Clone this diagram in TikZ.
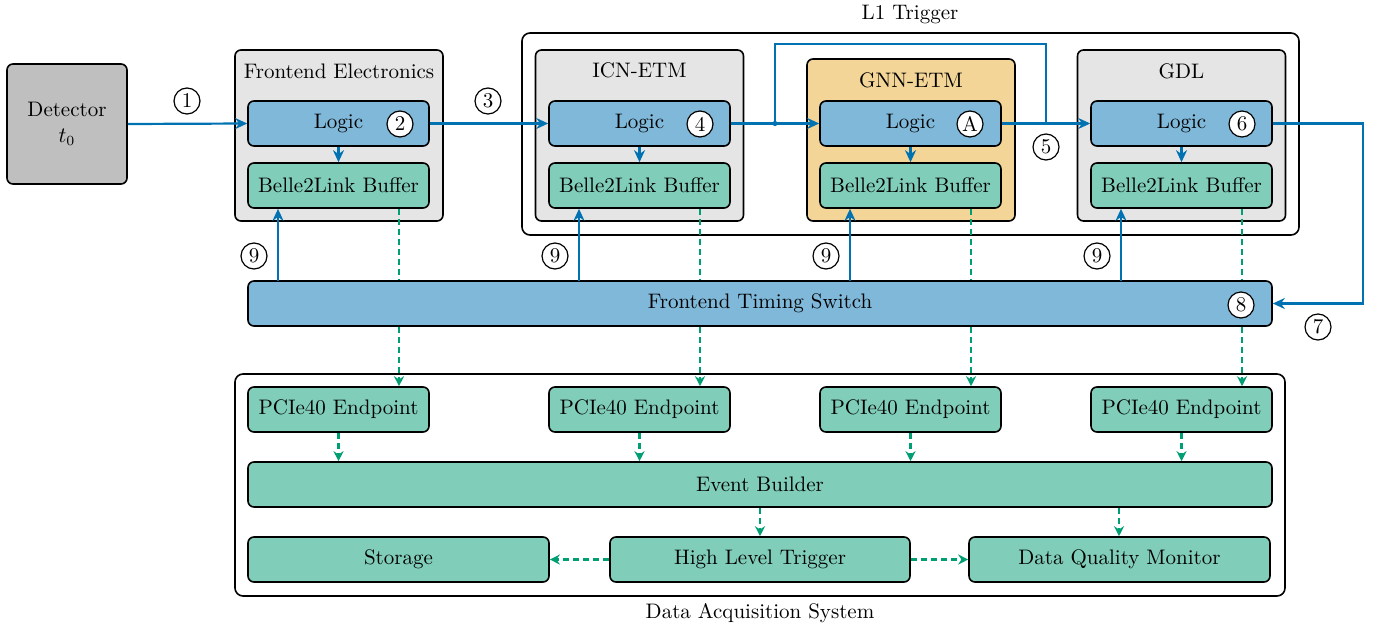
\documentclass[tikz,border=0pt]{standalone}
\usetikzlibrary{arrows.meta,calc}
\definecolor{cblue}{HTML}{0072B2}
\definecolor{cgreen}{HTML}{009E73}
\definecolor{corange}{HTML}{F3D597}
\tikzset{
  base/.style={draw, thick, rounded corners=3pt, inner sep=0pt, align=center},
  lg/.style={base, fill=cblue!50, minimum width=90.5pt, minimum height=22.5pt},
  bf/.style={base, fill=cgreen!50, minimum width=90.5pt, minimum height=22.5pt},
  grp/.style={base, fill=black!10, minimum width=104pt, minimum height=85.5pt},
  outer/.style={base, rounded corners=4pt},
  num/.style={circle, draw, semithick, fill=white, inner sep=0pt, minimum size=13pt},
  bl/.style={cblue, line width=1.1pt, -{Stealth[length=6pt,width=5.5pt]}},
  bline/.style={cblue, line width=1.1pt},
  dq/.style={cgreen, line width=1.1pt, dash pattern=on 3pt off 2pt, -{Stealth[length=5pt,width=5pt]}},
  dqline/.style={cgreen, line width=1.1pt, dash pattern=on 3pt off 2pt},
  ttl/.style={inner sep=0pt}
}
\begin{document}
\begin{tikzpicture}[x=0.5pt,y=-0.5pt,font=\fontsize{10.5}{12.6}\selectfont]
\useasboundingbox (0,0) rectangle (1379,631);
% outer groups
\node[outer, minimum width=388.5pt, minimum height=101pt] (l1) at (910.5,134) {};
\node[ttl] (l1t) at (910,14) {L1 Trigger};
\node[outer, minimum width=525pt, minimum height=111pt] (daq) at (760,485) {};
\node[ttl] (daqt) at (760,613) {Data Acquisition System};
% detector
\node[base, fill=black!25, minimum width=60pt, minimum height=60pt] (det) at (67,124) {Detector\\$t_0$};
% frontend electronics
\node[grp] (fe) at (339,135.5) {};
\node[ttl] (fet) at (339,71) {Frontend Electronics};
\node[lg] (fel) at (338.5,123.5) {Logic};
\node[bf] (feb) at (338.5,185.5) {Belle2Link Buffer};
% ICN-ETM
\node[grp] (icn) at (639.5,135.5) {};
\node[ttl] (icnt) at (639.5,70) {ICN-ETM};
\node[lg] (icnl) at (639.5,123.5) {Logic};
\node[bf] (icnb) at (639.5,185.5) {Belle2Link Buffer};
% GNN-ETM
\node[grp, fill=corange, minimum height=81pt] (gnn) at (911,140) {};
\node[ttl] (gnnt) at (911,80) {GNN-ETM};
\node[lg] (gnnl) at (910.5,123.5) {Logic};
\node[bf] (gnnb) at (910.5,185.5) {Belle2Link Buffer};
% GDL
\node[grp] (gdl) at (1181.5,135.5) {};
\node[ttl] (gdlt) at (1181.5,71) {GDL};
\node[lg] (gdll) at (1181.5,123.5) {Logic};
\node[bf] (gdlb) at (1181.5,185.5) {Belle2Link Buffer};
% timing switch
\node[lg, minimum width=512pt] (fts) at (760,303.5) {Frontend Timing Switch};
% DAQ
\node[bf] (p1) at (338.5,409.5) {PCIe40 Endpoint};
\node[bf] (p2) at (639.5,409.5) {PCIe40 Endpoint};
\node[bf] (p3) at (910.5,409.5) {PCIe40 Endpoint};
\node[bf] (p4) at (1181.5,409.5) {PCIe40 Endpoint};
\node[bf, minimum width=512pt] (eb) at (760,484.5) {Event Builder};
\node[bf, minimum width=150.5pt] (sto) at (398.5,559.5) {Storage};
\node[bf, minimum width=150pt] (hlt) at (760,559.5) {High Level Trigger};
\node[bf, minimum width=150.5pt] (dqm) at (1119.5,559.5) {Data Quality Monitor};
% logic -> buffer
\foreach \m in {fe,icn,gnn,gdl}{\draw[bl] (\m l.south) -- (\m b.north);}
% main trigger path
\draw[bl] (det.east) -- (fel.west);
\draw[bl] (fel.east) -- (icnl.west);
\draw[bl] (icnl.east) -- (gnnl.west);
\draw[bl] (gnnl.east) -- (gdll.west);
\coordinate (m1) at ($(icnl.east)!0.5!(gnnl.west)$);
\coordinate (m2) at ($(gnnl.east)!0.5!(gdll.west)$);
\coordinate (top) at (775,44);
\draw[bline] (m1) |- (top) -| (m2);
\fill[cblue] (m1) circle (1.3pt);
\draw[bl] (gdll.east) -- ++(45pt,0) |- (fts.east);
% timing distribution (9)
\foreach \b/\x in {feb/278,icnb/579,gnnb/850,gdlb/1121}{
  \coordinate (s) at (\x,281);
  \draw[bl] (s) -- (s |- \b.south);
}
% buffer readout
\foreach \b/\p/\x in {feb/p1/399,icnb/p2/700,gnnb/p3/971,gdlb/p4/1242}{
  \coordinate (r) at (\x,208);
  \draw[dqline] (r |- \b.south) -- (r |- fts.north);
  \draw[dq] (r |- fts.south) -- (r |- \p.north);
}
\foreach \p in {p1,p2,p3,p4}{\draw[dq] (\p.south) -- (\p.south |- eb.north);}
\coordinate (e1) at (760,507);
\coordinate (e2) at (1119,507);
\draw[dq] (e1 |- eb.south) -- (e1 |- hlt.north);
\draw[dq] (e2 |- eb.south) -- (e2 |- dqm.north);
\draw[dq] (hlt.west) -- (sto.east);
\draw[dq] (hlt.east) -- (dqm.west);
% number labels
\node[num] (n1) at (187,101) {1};
\node[num] (n2) at (400,124) {2};
\node[num] (n3) at (488,101) {3};
\node[num] (n4) at (700,124) {4};
\node[num] (nA) at (970,124) {A};
\node[num] (n5) at (1046,147) {5};
\node[num] (n6) at (1242,124) {6};
\node[num] (n7) at (1318,327) {7};
\node[num] (n8) at (1241,305) {8};
\node[num] (n9a) at (254,256) {9};
\node[num] (n9b) at (555,256) {9};
\node[num] (n9c) at (826,256) {9};
\node[num] (n9d) at (1097,256) {9};
\end{tikzpicture}
\end{document}
